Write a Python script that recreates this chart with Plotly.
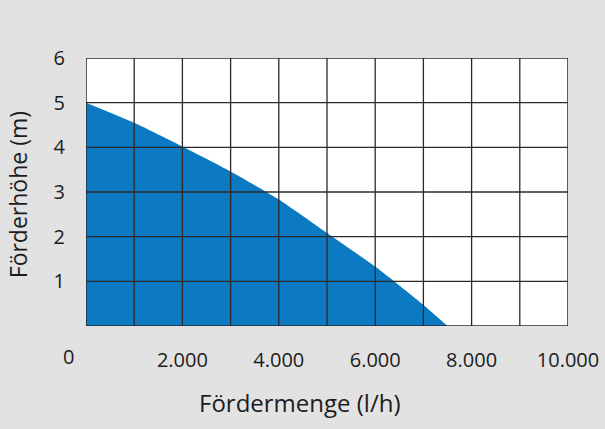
import plotly.graph_objects as go

# Data
flow_lh = [0, 1000, 2000, 3000, 4000, 5000, 6000, 7000, 7500]
head_m = [5.0, 4.55, 4.02, 3.46, 2.83, 2.08, 1.33, 0.47, 0.0]

x_tickvals = [2000, 4000, 6000, 8000, 10000]
x_ticktext = ["2.000", "4.000", "6.000", "8.000", "10.000"]
y_tickvals = [1, 2, 3, 4, 5, 6]
x_grid = list(range(1000, 10000, 1000))
y_grid = [1, 2, 3, 4, 5]

BG = "#e2e2e2"
BLUE = "#0b7ac2"
GRID = "#2a2a2a"
TEXT = "#1c1c1c"
FONT = "Open Sans"

fig = go.Figure()
fig.add_trace(go.Scatter(
    x=flow_lh, y=head_m, mode="lines", fill="tozeroy",
    fillcolor=BLUE, line=dict(color=BLUE, width=0, shape="spline", smoothing=0.6),
    hoverinfo="skip", showlegend=False,
))

shapes = []
for gx in x_grid:
    shapes.append(dict(type="line", xref="x", yref="y", x0=gx, x1=gx, y0=0, y1=6,
                       line=dict(color=GRID, width=1.3), layer="above"))
for gy in y_grid:
    shapes.append(dict(type="line", xref="x", yref="y", x0=0, x1=10000, y0=gy, y1=gy,
                       line=dict(color=GRID, width=1.3), layer="above"))
shapes.append(dict(type="rect", xref="x", yref="y", x0=0, x1=10000, y0=0, y1=6,
                   line=dict(color=GRID, width=1.5), layer="above"))

fig.update_layout(
    width=605, height=429,
    margin=dict(l=86, r=37, t=58, b=103, autoexpand=False),
    paper_bgcolor=BG, plot_bgcolor="white",
    font=dict(family=FONT, size=20, color=TEXT),
    shapes=shapes,
    xaxis=dict(range=[0, 10000], tickvals=x_tickvals, ticktext=x_ticktext,
               showgrid=False, zeroline=False, showline=False, automargin=False,
               ticks="outside", ticklen=16, tickcolor="rgba(0,0,0,0)",
               tickfont=dict(size=20, family=FONT, color=TEXT)),
    yaxis=dict(range=[0, 6], tickvals=y_tickvals,
               showgrid=False, zeroline=False, showline=False, automargin=False,
               ticks="outside", ticklen=16, tickcolor="rgba(0,0,0,0)",
               tickfont=dict(size=20, family=FONT, color=TEXT)),
    annotations=[
        dict(text="0", xref="paper", yref="paper", x=-0.037, y=-0.112,
             xanchor="center", yanchor="middle", showarrow=False,
             font=dict(size=20, family=FONT, color=TEXT)),
        dict(text="Fördermenge (l/h)", xref="paper", yref="paper", x=0.444, y=-0.285,
             xanchor="center", yanchor="middle", showarrow=False,
             font=dict(size=24, family=FONT, color=TEXT)),
        dict(text="Förderhöhe (m)", xref="paper", yref="paper", x=-0.142, y=0.49,
             xanchor="center", yanchor="middle", showarrow=False, textangle=-90,
             font=dict(size=23, family=FONT, color=TEXT)),
    ],
)

fig.write_html("out.html", config={"displayModeBar": False},
               post_script="document.body.style.margin='0';")
